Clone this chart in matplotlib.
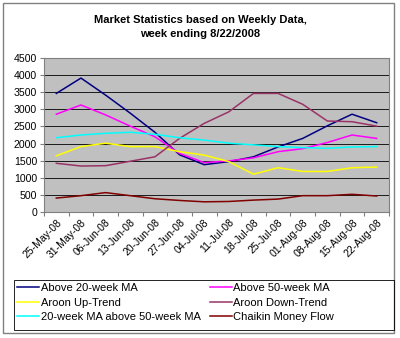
import matplotlib.pyplot as plt
from matplotlib.patches import Rectangle
import numpy as np

plt.rcParams['font.family'] = ['Liberation Sans', 'DejaVu Sans']

weeks = ['25-May-08', '31-May-08', '06-Jun-08', '13-Jun-08', '20-Jun-08', '27-Jun-08', '04-Jul-08',
         '11-Jul-08', '18-Jul-08', '25-Jul-08', '01-Aug-08', '08-Aug-08', '15-Aug-08', '22-Aug-08']

above20 = [3470, 3920, 3420, 2890, 2330, 1670, 1380, 1470, 1610, 1900, 2150, 2520, 2860, 2610]
above50 = [2860, 3130, 2840, 2510, 2200, 1710, 1440, 1490, 1580, 1760, 1850, 2030, 2250, 2150]
aroonUp = [1640, 1910, 2010, 1910, 1910, 1760, 1660, 1470, 1100, 1290, 1180, 1180, 1290, 1310]
aroonDown = [1420, 1340, 1350, 1480, 1610, 2150, 2590, 2930, 3470, 3470, 3150, 2660, 2640, 2510]
maCross = [2170, 2250, 2300, 2330, 2270, 2170, 2100, 2010, 1960, 1910, 1880, 1860, 1900, 1910]
chaikin = [400, 470, 560, 470, 380, 330, 290, 300, 340, 370, 470, 470, 510, 460]

series = [
    ('Above 20-week MA', above20, '#000080'),
    ('Above 50-week MA', above50, '#FF00FF'),
    ('Aroon Up-Trend', aroonUp, '#FFFF00'),
    ('Aroon Down-Trend', aroonDown, '#993366'),
    ('20-week MA above 50-week MA', maCross, '#00FFFF'),
    ('Chaikin Money Flow', chaikin, '#800000'),
]

fig = plt.figure(figsize=(4.0, 3.38), dpi=100)
W, H = 400, 338

# outer chart border
fig.patches.append(Rectangle((3 / W, 1 - 333 / H), 391 / W, 330 / H, transform=fig.transFigure,
                             fill=False, edgecolor='#808080', linewidth=1.0))
# legend frame (Excel style, wider than its entries)
fig.patches.append(Rectangle((14 / W, 1 - 330 / H), 380 / W, 50 / H, transform=fig.transFigure,
                             fill=False, edgecolor='#000000', linewidth=0.6))

ax = fig.add_axes([44 / W, 1 - 211.7 / H, 345 / W, 153.4 / H])
ax.set_facecolor('#C0C0C0')

x = np.arange(len(weeks))
handles = {}
for name, vals, col in series:
    h, = ax.plot(x, vals, color=col, linewidth=1.1, label=name)
    handles[name] = h

ax.set_xlim(-0.5, len(weeks) - 0.5)
ax.set_ylim(0, 4500)
ax.set_yticks(np.arange(0, 4501, 500))
ax.yaxis.grid(True, color='#000000', linewidth=0.6)
ax.set_axisbelow(True)

ax.set_xticks(np.arange(-0.5, len(weeks), 1.0))
ax.set_xticklabels([])
ax.set_xticks(x, minor=True)
ax.set_xticklabels(weeks, minor=True, rotation=45, ha='right', va='top', rotation_mode='anchor',
                   fontsize=7.5)
ax.tick_params(axis='x', which='minor', length=0, pad=4)
ax.tick_params(axis='x', which='major', length=3, color='#808080', direction='out')
ax.tick_params(axis='y', labelsize=7.6, length=3, color='#808080', pad=2)

for s in ['top', 'right']:
    ax.spines[s].set_color('#808080')
    ax.spines[s].set_linewidth(0.8)
ax.spines['left'].set_color('#808080')
ax.spines['bottom'].set_color('#808080')

fig.text(0.5, 1 - 27 / H, 'Market Statistics based on Weekly Data,\nweek ending 8/22/2008',
         ha='center', va='center', fontsize=8, fontweight='bold', linespacing=1.4)

order = ['Above 20-week MA', 'Aroon Up-Trend', '20-week MA above 50-week MA',
         'Above 50-week MA', 'Aroon Down-Trend', 'Chaikin Money Flow']
leg = fig.legend([handles[n] for n in order], order, ncol=2, loc='upper left',
                 bbox_to_anchor=(15 / W, 1 - 281 / H), fontsize=8, frameon=False,
                 handlelength=2.0, handletextpad=0.1, columnspacing=0.85,
                 labelspacing=0.4, borderpad=0.2, borderaxespad=0)

fig.savefig('out.png', dpi=100, facecolor='white')
